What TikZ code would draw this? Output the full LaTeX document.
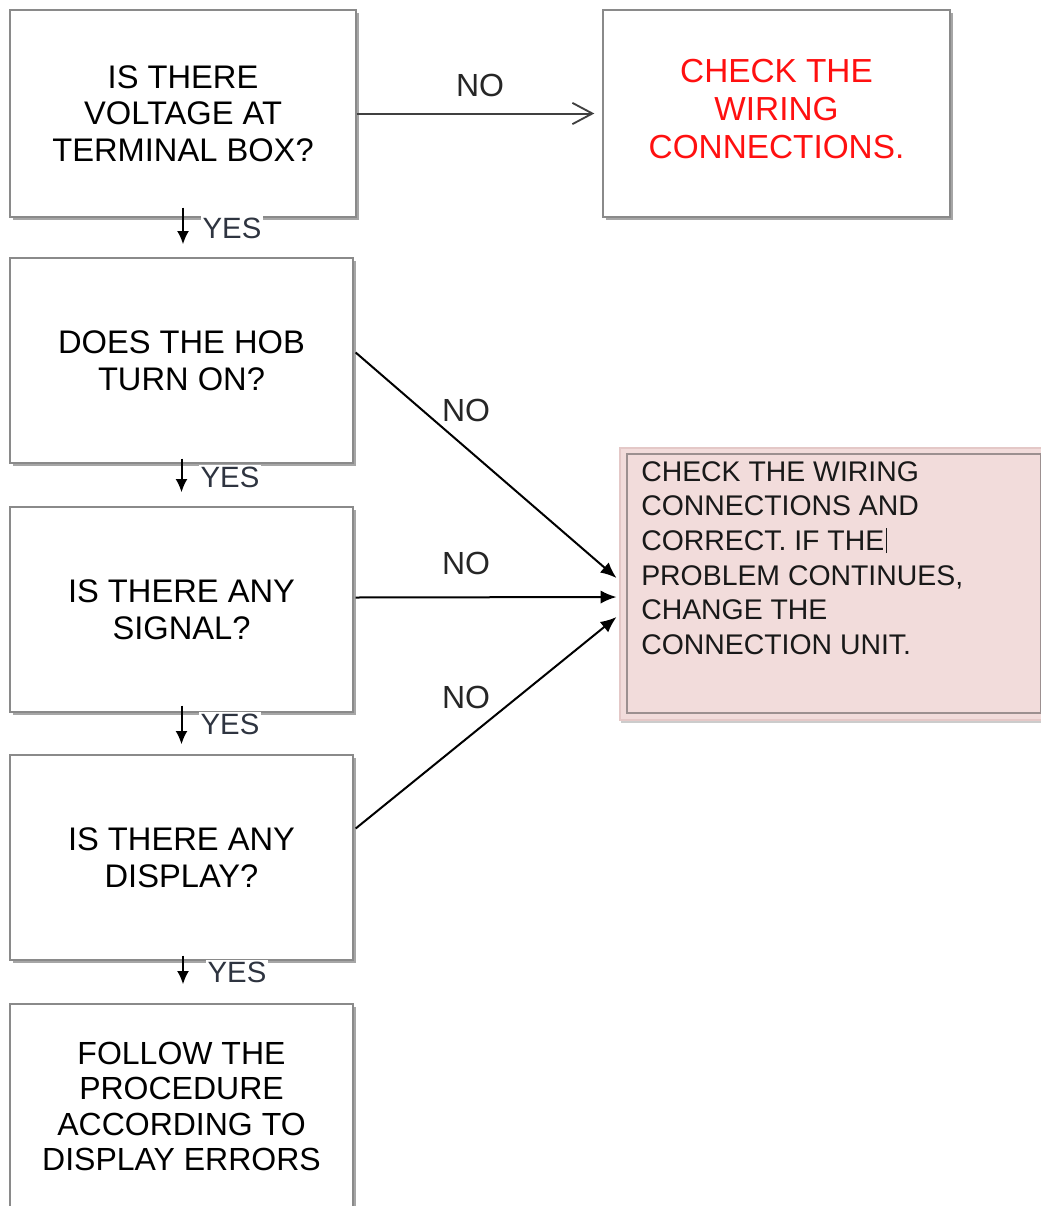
\documentclass[tikz,border=0pt]{standalone}
\usepackage{fontspec}
\setmainfont{Liberation Sans}
\usetikzlibrary{arrows.meta,calc,shadows}
\definecolor{boxgray}{HTML}{8A8A8A}
\definecolor{pinkfill}{HTML}{F2DCDB}
\definecolor{pinkedge}{HTML}{E4C8C7}
\definecolor{inneredge}{HTML}{9C9090}
\definecolor{redtxt}{HTML}{FF1010}
\definecolor{yestxt}{HTML}{2E3440}
\begin{document}
\begin{tikzpicture}[x=0.75pt,y=-0.75pt,
  qbox/.style={draw=boxgray, line width=1pt, fill=white,
    drop shadow={shadow xshift=2pt, shadow yshift=-2pt, opacity=0.35, fill=black},
    align=center, font=\fontsize{24.5}{27.5}\selectfont, text=black},
  nolabel/.style={font=\fontsize{24}{28}\selectfont, text=black!85, inner sep=0pt},
  yeslabel/.style={font=\fontsize{22}{26}\selectfont, text=yestxt, fill=white, inner sep=1.5pt},
  yesarrow/.style={line width=1.5pt, -{Latex[length=10pt,width=9pt]}},
  noarrow/.style={line width=1.5pt, -{Latex[length=12pt,width=10pt]}},
]
\useasboundingbox (0,0) rectangle (1040,1206);

% question boxes
\node[qbox, minimum width=259.5pt, minimum height=155.25pt] (b1) at (183,113.5)
  {IS THERE\\VOLTAGE AT\\TERMINAL BOX?};
\node[qbox, minimum width=260.25pt, minimum height=155.25pt,
  font=\fontsize{25}{28.5}\selectfont, text=redtxt] (b2) at (776.5,113.5)
  {CHECK THE\\WIRING\\CONNECTIONS.\\[-22pt]};
\node[qbox, minimum width=257.25pt, minimum height=153.75pt] (b3) at (181.5,360.5)
  {DOES THE HOB\\TURN ON?};
\node[qbox, minimum width=257.25pt, minimum height=153.75pt] (b4) at (181.5,609.5)
  {IS THERE ANY\\SIGNAL?};
\node[qbox, minimum width=257.25pt, minimum height=153.75pt] (b5) at (181.5,857.5)
  {IS THERE ANY\\DISPLAY?};
\node[qbox, minimum width=257.25pt, minimum height=153.75pt,
  font=\fontsize{24}{26.5}\selectfont] (b6) at (181.5,1106.5)
  {FOLLOW THE\\PROCEDURE\\ACCORDING TO\\DISPLAY ERRORS};

% pink box
\node[draw=pinkedge, line width=2.2pt, fill=pinkfill,
  drop shadow={shadow xshift=1pt, shadow yshift=-2pt, opacity=0.2, fill=black},
  minimum width=318pt, minimum height=204pt] (pink) at (832,584) {};
\draw[inneredge, line width=1.5pt] ($(pink.north west)+(8,7)$) rectangle ($(pink.south east)+(-4,-8)$);
\node[anchor=north west, inner sep=0pt, align=left, text=black!90,
  font=\fontsize{21.3}{26}\selectfont] (pinktxt) at (641,461)
  {CHECK THE WIRING\\CONNECTIONS AND\\CORRECT. IF THE\hspace{1pt}\rule[-2pt]{0.6pt}{19pt}\\PROBLEM CONTINUES,\\CHANGE THE\\CONNECTION UNIT.};

% NO connectors
\draw[line width=1.5pt, black!75, -{Straight Barb[length=15pt,width=16pt,line width=1.4pt]}]
  (b1.east) -- ($(b2.west)+(-8,0)$);
\node[nolabel] (no1) at (480,85) {NO};

\draw[noarrow] ($(b3.east)+(2,-8)$) -- ($(pink.west)+(-2,-6)$);
\node[nolabel] (no2) at (466,410) {NO};
\draw[noarrow] ($(b4.east)+(2,-12)$) -- ($(pink.west)+(-2,13)$);
\node[nolabel] (no3) at (466,563) {NO};
\draw[noarrow] ($(b5.east)+(2,-29)$) -- ($(pink.west)+(-2,33)$);
\node[nolabel] (no4) at (466,697) {NO};

% YES connectors
\node[yeslabel] (y1) at (232,228) {YES};
\node[yeslabel] (y2) at (230,477) {YES};
\node[yeslabel] (y3) at (230,724) {YES};
\node[yeslabel] (y4) at (237,972) {YES};
\draw[yesarrow] ($(b1.south)+(0,-10)$) -- ($(b3.north)+(1.5,-13)$);
\draw[yesarrow] ($(b3.south)+(0,-5)$) -- ($(b4.north)+(0,-14)$);
\draw[yesarrow] ($(b4.south)+(0,-7)$) -- ($(b5.north)+(0,-10)$);
\draw[yesarrow] ($(b5.south)+(1.5,-5)$) -- ($(b6.north)+(1.5,-19)$);
\end{tikzpicture}
\end{document}
